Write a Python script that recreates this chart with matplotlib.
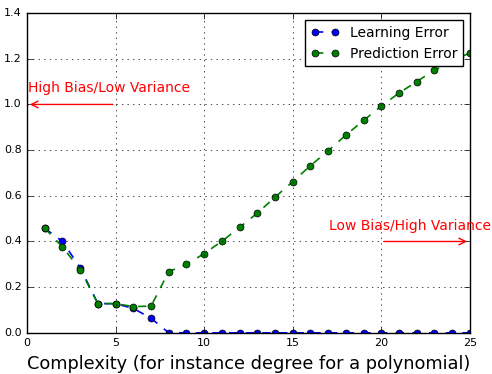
import matplotlib
matplotlib.use("Agg")
import matplotlib.pyplot as plt

complexity = list(range(1, 26))
learning_error = [0.458, 0.40, 0.285, 0.128, 0.128, 0.107, 0.064] + [0.0] * 18
prediction_error = [0.458, 0.376, 0.277, 0.128, 0.128, 0.115, 0.117, 0.268, 0.30, 0.347,
                    0.401, 0.462, 0.524, 0.594, 0.662, 0.732, 0.797, 0.866, 0.930, 0.993,
                    1.05, 1.10, 1.15, 1.19, 1.226]

plt.style.use("classic")
fig = plt.figure(figsize=(4.92, 3.74), dpi=100, facecolor="white")
ax = fig.add_axes([0.055, 0.110, 0.900, 0.855])

ax.plot(complexity, learning_error, "o--", color="blue", markerfacecolor="blue",
        markersize=5, linewidth=1.2, label="Learning Error")
ax.plot(complexity, prediction_error, "o--", color="green", markerfacecolor="green",
        markersize=5, linewidth=1.2, label="Prediction Error")

ax.set_xlim(0, 25)
ax.set_ylim(0, 1.4)
ax.grid(True)
ax.tick_params(labelsize=8)
ax.set_xlabel("Complexity (for instance degree for a polynomial)", fontsize=12.8)

ax.text(0.05, 1.07, "High Bias/Low Variance", color="red", fontsize=10, va="center")
ax.annotate("", xy=(0, 1.0), xytext=(5, 1.0),
            arrowprops=dict(arrowstyle="->", color="red", lw=1))
ax.text(17.05, 0.47, "Low Bias/High Variance", color="red", fontsize=10, va="center")
ax.annotate("", xy=(25, 0.4), xytext=(20, 0.4),
            arrowprops=dict(arrowstyle="->", color="red", lw=1))

ax.legend(loc="upper right", numpoints=2, fontsize=10)

fig.savefig("out.png", dpi=100, facecolor="white")
